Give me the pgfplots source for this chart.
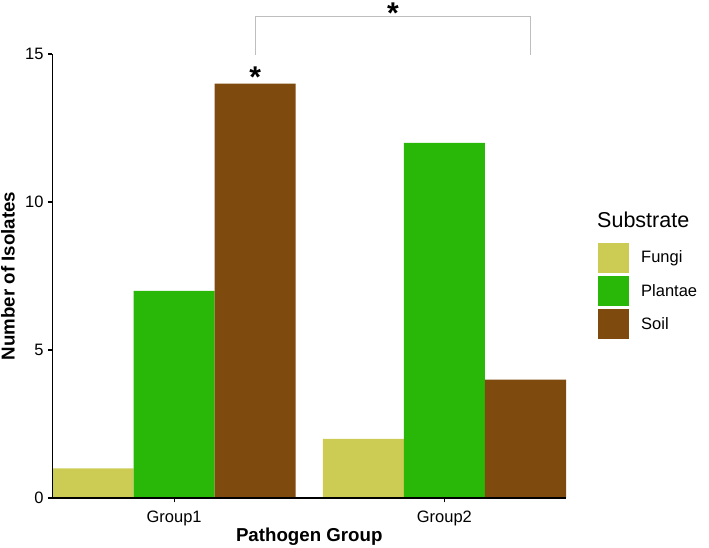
\documentclass[border=0pt]{standalone}
\usepackage{pgfplots}
\pgfplotsset{compat=1.18}
\usepackage{fontspec}
\setmainfont{Liberation Sans}
\definecolor{cfungi}{RGB}{204,204,84}
\definecolor{cplantae}{RGB}{42,184,8}
\definecolor{csoil}{RGB}{127,74,14}
\definecolor{cbracket}{RGB}{190,190,190}
\begin{document}
\begin{tikzpicture}
\begin{axis}[
  at={(0,0)}, anchor=south west,
  scale only axis, width=513.5pt, height=444pt,
  xmin=0.55, xmax=2.45, ymin=0, ymax=15,
  axis x line*=bottom, axis y line*=left,
  axis line style={black, line width=1.1pt, -},
  axis on top,
  xtick={1,2}, xticklabels={Group1,Group2},
  ytick={0,5,10,15},
  tick align=outside, major tick length=4.5pt,
  every tick/.style={black, line width=1.1pt},
  tick label style={font=\fontsize{16.5}{19}\selectfont, black},
  /pgf/number format/assume math mode=true,
  xticklabel style={yshift=-5pt},
  yticklabel style={xshift=-1pt},
  xlabel={Pathogen Group},
  ylabel={Number of Isolates},
  label style={font=\bfseries\fontsize{18.7}{22}\selectfont, inner sep=0pt},
  xlabel style={at={(rel axis cs:0.5,0)}, anchor=center, yshift=-39pt},
  ylabel style={at={(rel axis cs:0,0.5)}, anchor=center, yshift=44.5pt},
  clip=false,
]
\addplot[ybar, bar width=0.3, bar shift=0pt, fill=cfungi, draw=none] coordinates {(0.7,1) (1.7,2)};
\addplot[ybar, bar width=0.3, bar shift=0pt, fill=cplantae, draw=none] coordinates {(1.0,7) (2.0,12)};
\addplot[ybar, bar width=0.3, bar shift=0pt, fill=csoil, draw=none] coordinates {(1.3,14) (2.3,4)};
\draw[cbracket, line width=1pt] (axis cs:1.3,14.97) -- (axis cs:1.3,16.25) -- (axis cs:2.32,16.25) -- (axis cs:2.32,14.95);
\node[anchor=base, inner sep=0pt, font=\bfseries\fontsize{30}{30}\selectfont] at (axis cs:1.3,13.88) {*};
\node[overlay, anchor=base, inner sep=0pt, font=\bfseries\fontsize{30}{30}\selectfont] at (axis cs:1.81,16.03) {*};
\end{axis}
% legend
\node[anchor=base west, inner sep=0pt, font=\fontsize{21.5}{24}\selectfont] at (544.5pt,270pt) {Substrate};
\fill[cfungi] (545.5pt,225pt) rectangle (576.5pt,255pt);
\fill[cplantae] (545.5pt,192pt) rectangle (576.5pt,222pt);
\fill[csoil] (545.5pt,159pt) rectangle (576.5pt,189pt);
\node[anchor=west, inner sep=0pt, font=\fontsize{16.5}{19}\selectfont] at (588.5pt,240pt) {Fungi};
\node[anchor=west, inner sep=0pt, font=\fontsize{16.5}{19}\selectfont] at (588.5pt,207pt) {Plantae};
\node[anchor=west, inner sep=0pt, font=\fontsize{16.5}{19}\selectfont] at (588.5pt,174pt) {Soil};
\path (-52.5pt,-50pt) rectangle (656.5pt,498pt);
\end{tikzpicture}
\end{document}
